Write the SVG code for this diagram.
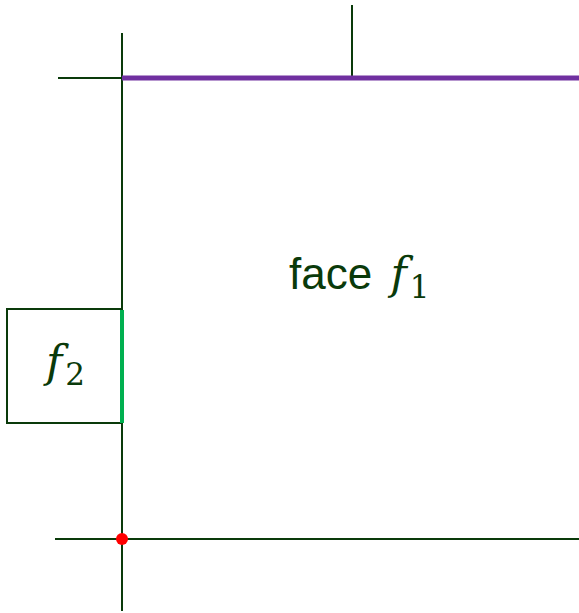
<svg xmlns="http://www.w3.org/2000/svg" width="579" height="613" viewBox="0 0 579 613">
<style>
.ln{stroke:#0a3a0a;stroke-width:2;fill:none}
.t{fill:#0a3a0a}
.m{font-family:"DejaVu Serif","Liberation Serif",serif;font-style:italic}
.s{font-family:"DejaVu Serif","Liberation Serif",serif;font-style:normal}
</style>
<rect width="579" height="613" fill="#fff"/>
<g id="connectors">
<line class="ln" x1="122" y1="33" x2="122" y2="611"/>
<line class="ln" x1="58" y1="78" x2="122" y2="78"/>
<line class="ln" x1="352" y1="5" x2="352" y2="77"/>
<line class="ln" x1="55" y1="539" x2="579" y2="539"/>
<line stroke="#7030a0" stroke-width="5" x1="122" y1="78" x2="579" y2="78"/>
</g>
<g id="f2">
<rect class="ln" x="7" y="309" width="115" height="114"/>
<line stroke="#00b050" stroke-width="4" x1="122" y1="310" x2="122" y2="423"/>
<text class="t m" x="46" y="377" font-size="44">f<tspan class="s" font-size="31" dx="3" dy="8">2</tspan></text>
</g>
<g id="f1">
<text class="t" x="289" y="289" font-family="Liberation Sans,Arial,sans-serif" font-size="44">face <tspan class="m" dx="6">f</tspan><tspan class="s" font-size="31" dx="3" dy="9">1</tspan></text>
</g>
<g id="vertex">
<circle cx="122" cy="539" r="6" fill="#ff0000"/>
</g>
</svg>
